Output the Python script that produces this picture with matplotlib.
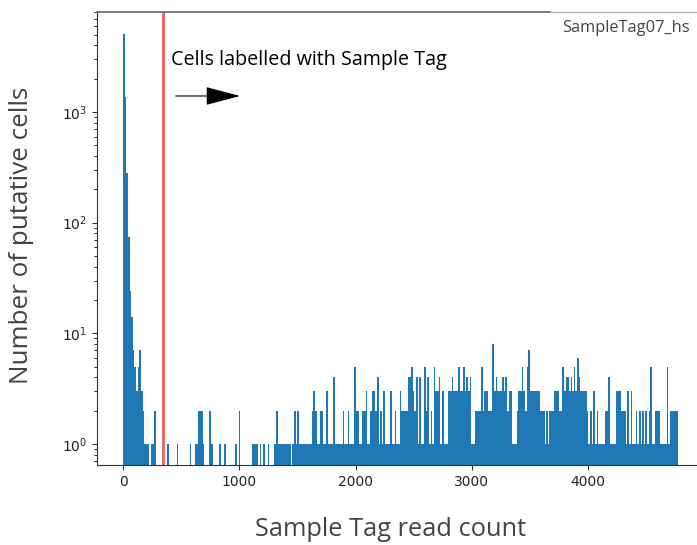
import matplotlib
matplotlib.use('Agg')
import matplotlib.pyplot as plt
import numpy as np

# histogram of Sample Tag read counts, bin width 14 reads, counts
bin_width = 14
counts_head = [5120, 1360, 280, 74, 24, 14, 7, 5, 3, 5, 7, 3, 2, 1, 1, 1, 0, 1, 1, 2]
counts_020 = [0, 0, 0, 0, 0, 0, 0, 1, 0, 0, 0, 0, 0, 1, 0, 0, 0, 0, 0, 0]
counts_040 = [0, 1, 0, 0, 1, 1, 2, 2, 2, 1, 0, 0, 0, 2, 1, 0, 0, 0, 0, 1]
counts_060 = [0, 0, 1, 0, 0, 0, 0, 0, 0, 1, 0, 2, 0, 0, 0, 0, 0, 0, 0, 1]
counts_080 = [1, 1, 1, 0, 1, 0, 1, 0, 0, 1, 0, 0, 0, 1, 2, 1, 1, 1, 1, 1]
counts_100 = [1, 1, 1, 0, 1, 2, 1, 2, 1, 1, 1, 1, 1, 1, 1, 1, 2, 3, 2, 1]
counts_120 = [1, 2, 2, 1, 1, 3, 1, 1, 1, 4, 1, 1, 1, 1, 1, 2, 1, 1, 2, 1]
counts_140 = [1, 1, 5, 2, 2, 1, 1, 2, 2, 3, 1, 1, 2, 3, 3, 2, 4, 1, 2, 1]
counts_160 = [3, 1, 1, 1, 3, 1, 1, 2, 1, 1, 3, 2, 2, 2, 2, 4, 4, 5, 3, 2]
counts_180 = [4, 1, 4, 1, 1, 5, 2, 4, 1, 2, 1, 5, 3, 3, 4, 1, 3, 1, 1, 1]
counts_200 = [3, 3, 4, 3, 3, 3, 5, 3, 3, 5, 3, 4, 3, 4, 1, 1, 2, 2, 2, 2]
counts_220 = [5, 2, 3, 3, 2, 2, 2, 8, 3, 4, 3, 3, 3, 4, 3, 4, 2, 3, 3, 1]
counts_240 = [1, 1, 2, 3, 3, 5, 3, 2, 5, 7, 3, 3, 3, 3, 3, 3, 2, 2, 2, 1]
counts_260 = [2, 1, 2, 2, 2, 3, 3, 3, 2, 2, 5, 3, 4, 4, 3, 4, 3, 5, 3, 6]
counts_280 = [4, 3, 3, 3, 3, 2, 1, 2, 1, 3, 1, 2, 1, 1, 1, 1, 2, 2, 4, 1]
counts_300 = [1, 1, 1, 3, 3, 3, 2, 2, 2, 1, 3, 1, 3, 1, 1, 2, 1, 2, 1, 2]
counts_320 = [1, 2, 1, 2, 5, 1, 1, 2, 2, 2, 1, 1, 1, 1, 5, 1, 2, 2, 2, 2, 2]

threshold = 347
x_ticks = [0, 1000, 2000, 3000, 4000]
tag_name = 'SampleTag07_hs'

counts = np.array(counts_head + counts_020 + counts_040 + counts_060 + counts_080 +
                  counts_100 + counts_120 + counts_140 + counts_160 + counts_180 +
                  counts_200 + counts_220 + counts_240 + counts_260 + counts_280 +
                  counts_300 + counts_320, dtype=float)
edges = np.arange(len(counts) + 1) * bin_width
centers = edges[:-1] + bin_width / 2

fig = plt.figure(figsize=(6.97, 5.45), dpi=100)
ax = fig.add_axes([97 / 697, 80 / 545, 600 / 697, 453 / 545])

ax.hist(centers, bins=edges, weights=counts, color='#1f77b4', log=True)
ax.axvline(threshold, color='#f25c5c', lw=2)

ax.set_xlim(-224, 4938)
ax.set_ylim(0.646, 8020)
ax.set_xticks(x_ticks)

for s in ['top', 'right']:
    ax.spines[s].set_visible(False)
for s in ['left', 'bottom']:
    ax.spines[s].set_color('#333333')
ax.tick_params(colors='#333333', labelsize=10, labelcolor='#222222')

# top border, partly covered by the tag box
fig.add_artist(plt.Line2D([97 / 697, 550 / 697], [533 / 545, 533 / 545], color='#666666', lw=1.2))
fig.add_artist(plt.Line2D([550 / 697, 1.0], [533 / 545, 533 / 545], color='#aaaaaa', lw=0.8))

ax.annotate('', xy=(0.243, 0.8146), xytext=(0.1267, 0.8146), xycoords='axes fraction',
            arrowprops=dict(arrowstyle='-|>,head_length=1.1,head_width=0.29', mutation_scale=20,
                            color='black', lw=0.8))
ax.text(0.1233, 0.894, 'Cells labelled with Sample Tag', transform=ax.transAxes,
        fontsize=14.2, family='Open Sans', color='black', ha='left', va='center')

fig.text(690 / 697, 1 - 28 / 545, tag_name, fontsize=11.8, family='Open Sans',
         color='#444444', ha='right', va='center')

fig.text(22 / 697, 1 - 235 / 545, 'Number of putative cells', rotation=90, fontsize=18.7,
         family='Open Sans', color='#444444', ha='center', va='center')
fig.text(391 / 697, 1 - 530 / 545, 'Sample Tag read count', fontsize=18.3,
         family='Open Sans', color='#444444', ha='center', va='center')

fig.savefig('out.png', dpi=100)
